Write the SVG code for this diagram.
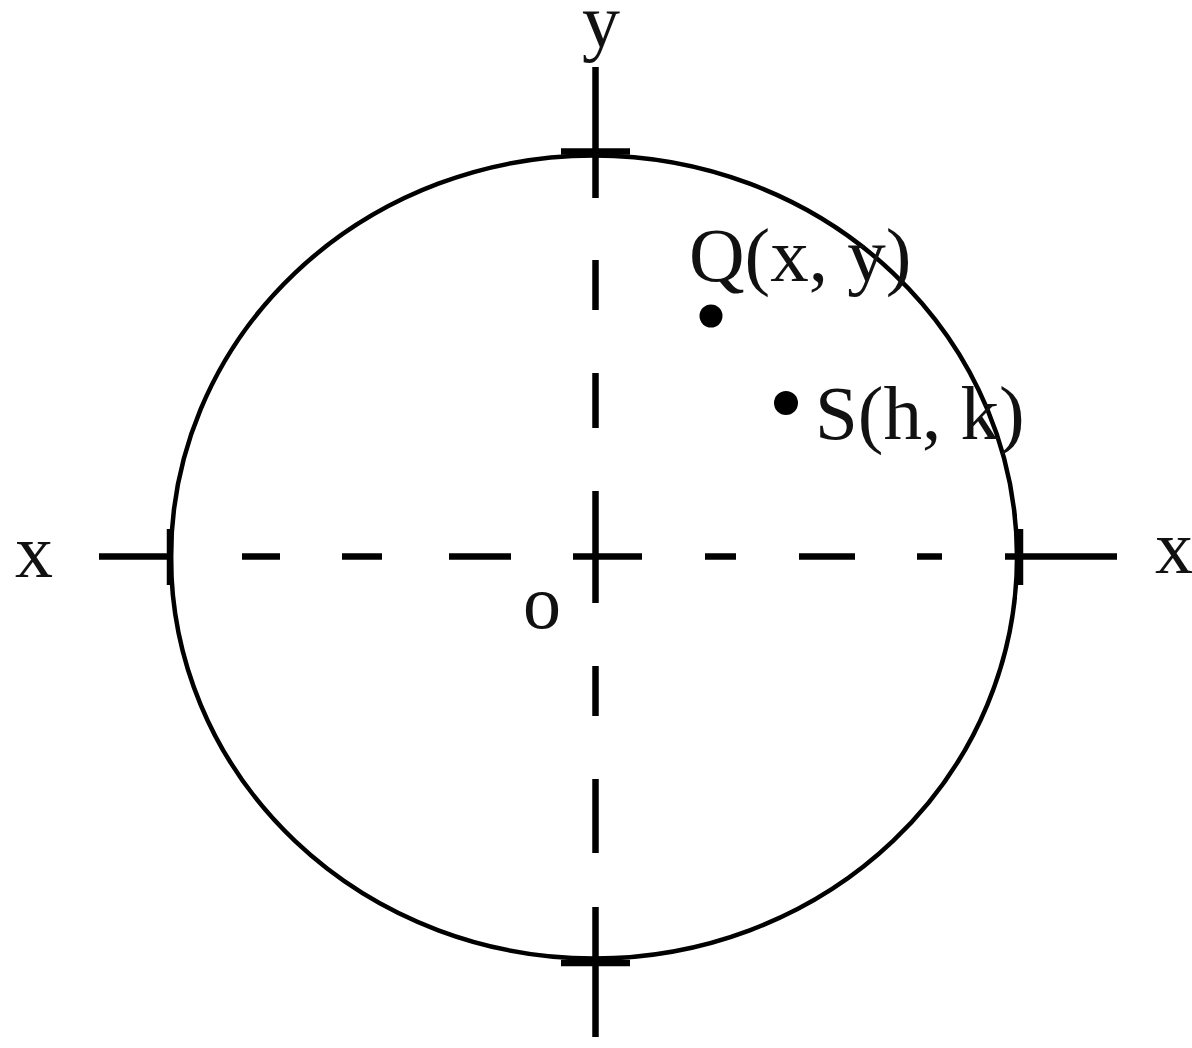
<svg xmlns="http://www.w3.org/2000/svg" width="1192" height="1048" viewBox="0 0 1192 1048">
<style>
.ax{stroke:#000;stroke-width:6.5;fill:none;stroke-linecap:butt}
.cir{stroke:#000;stroke-width:4.5;fill:none}
.lbl{font-family:"Liberation Serif","Times New Roman",serif;font-size:77px;fill:#111}
.axl{font-family:"Liberation Serif","Times New Roman",serif;font-size:76px;fill:#111}
.pt{fill:#000}
</style>
<rect width="1192" height="1048" fill="#fff"/>
<g id="circle">
<ellipse class="cir" cx="594" cy="557" rx="423" ry="401.5"/>
</g>
<g id="axes">
<line class="ax" x1="99" y1="556.5" x2="170" y2="556.5"/>
<line class="ax" x1="242" y1="556.5" x2="280" y2="556.5"/>
<line class="ax" x1="342" y1="556.5" x2="382" y2="556.5"/>
<line class="ax" x1="449" y1="556.5" x2="511" y2="556.5"/>
<line class="ax" x1="573" y1="556.5" x2="642" y2="556.5"/>
<line class="ax" x1="705" y1="556.5" x2="736" y2="556.5"/>
<line class="ax" x1="799" y1="556.5" x2="855" y2="556.5"/>
<line class="ax" x1="917" y1="556.5" x2="942" y2="556.5"/>
<line class="ax" x1="1005" y1="556.5" x2="1117" y2="556.5"/>
<line class="ax" x1="595.5" y1="67" x2="595.5" y2="198"/>
<line class="ax" x1="595.5" y1="260" x2="595.5" y2="310"/>
<line class="ax" x1="595.5" y1="373" x2="595.5" y2="428"/>
<line class="ax" x1="595.5" y1="491" x2="595.5" y2="603"/>
<line class="ax" x1="595.5" y1="666" x2="595.5" y2="716"/>
<line class="ax" x1="595.5" y1="779" x2="595.5" y2="853"/>
<line class="ax" x1="595.5" y1="907" x2="595.5" y2="1037"/>
<line class="ax" x1="561" y1="151.5" x2="630" y2="151.5"/>
<line class="ax" x1="561" y1="963" x2="630" y2="963"/>
<line class="ax" x1="170" y1="529" x2="170" y2="585"/>
<line class="ax" x1="1020" y1="529" x2="1020" y2="585"/>
</g>
<g id="Q">
<circle class="pt" cx="711" cy="316" r="11.5"/>
<text class="lbl" x="689" y="281">Q(x, y)</text>
</g>
<g id="S">
<circle class="pt" cx="786" cy="403" r="12"/>
<text class="lbl" x="815" y="439">S(h, k)</text>
</g>
<g id="labels">
<text class="axl" x="601" y="47" text-anchor="middle">y</text>
<text class="axl" x="34" y="577" text-anchor="middle">x</text>
<text class="axl" x="1155" y="573">x</text>
<text class="axl" x="542" y="628" text-anchor="middle">o</text>
</g>
</svg>
